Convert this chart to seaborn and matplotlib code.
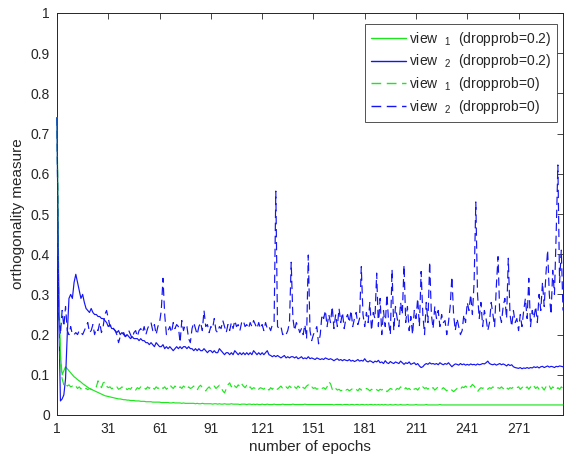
import numpy as np
import pandas as pd
import matplotlib
matplotlib.use("Agg")
import matplotlib.pyplot as plt
import seaborn as sns

# ---------------- data ----------------
green_solid = [
    0.74, 0.35, 0.15, 0.10, 0.11, 0.12, 0.115, 0.11, 0.105, 0.10,
    0.095, 0.092, 0.088, 0.085, 0.082, 0.078, 0.075, 0.072, 0.069, 0.066,
    0.064, 0.062, 0.060, 0.058, 0.056, 0.054, 0.052, 0.050, 0.048, 0.047,
    0.046, 0.045, 0.044, 0.043, 0.042, 0.041, 0.040, 0.040, 0.039, 0.038,
    0.038, 0.037, 0.037, 0.036, 0.036, 0.036, 0.035, 0.035, 0.035, 0.034,
    0.034, 0.034, 0.033, 0.033, 0.033, 0.033, 0.032, 0.032, 0.032, 0.032,
    0.032, 0.031, 0.031, 0.031, 0.031, 0.031, 0.030, 0.030, 0.031, 0.030,
    0.030, 0.030, 0.030, 0.029, 0.030, 0.029, 0.029, 0.029, 0.029, 0.029,
    0.029, 0.028, 0.029, 0.028, 0.028, 0.029, 0.028, 0.028, 0.028, 0.028,
    0.028, 0.027, 0.028, 0.028, 0.027, 0.028, 0.027, 0.027, 0.028, 0.027,
    0.027, 0.027, 0.028, 0.027, 0.027, 0.027, 0.027, 0.026, 0.027, 0.027,
    0.027, 0.026, 0.027, 0.027, 0.026, 0.027, 0.026, 0.027, 0.026, 0.026,
    0.027, 0.026, 0.026, 0.027, 0.026, 0.026, 0.026, 0.027, 0.026, 0.026,
    0.026, 0.026, 0.027, 0.026, 0.026, 0.026, 0.026, 0.026, 0.027, 0.026,
    0.026, 0.026, 0.026, 0.026, 0.026, 0.027, 0.026, 0.026, 0.026, 0.026,
    0.026, 0.026, 0.026, 0.026, 0.026, 0.026, 0.026, 0.026, 0.026, 0.026,
    0.026, 0.026, 0.025, 0.026, 0.026, 0.026, 0.026, 0.025, 0.026, 0.026,
    0.026, 0.025, 0.026, 0.026, 0.025, 0.026, 0.026, 0.025, 0.026, 0.026,
    0.025, 0.026, 0.025, 0.026, 0.026, 0.025, 0.026, 0.025, 0.026, 0.025,
    0.026, 0.025, 0.026, 0.025, 0.025, 0.026, 0.025, 0.025, 0.026, 0.025,
    0.025, 0.026, 0.025, 0.025, 0.025, 0.026, 0.025, 0.025, 0.025, 0.025,
    0.026, 0.025, 0.025, 0.025, 0.025, 0.025, 0.026, 0.025, 0.025, 0.025,
    0.025, 0.025, 0.025, 0.025, 0.026, 0.025, 0.025, 0.025, 0.025, 0.025,
    0.025, 0.025, 0.025, 0.025, 0.025, 0.025, 0.025, 0.025, 0.025, 0.025,
    0.025, 0.025, 0.025, 0.025, 0.025, 0.025, 0.025, 0.025, 0.025, 0.025,
    0.025, 0.025, 0.025, 0.025, 0.025, 0.025, 0.025, 0.025, 0.025, 0.025,
    0.025, 0.025, 0.025, 0.025, 0.025, 0.025, 0.025, 0.025, 0.025, 0.025,
    0.025, 0.025, 0.025, 0.025, 0.025, 0.025, 0.025, 0.025, 0.025, 0.025,
    0.025, 0.025, 0.025, 0.025, 0.025, 0.025, 0.025, 0.025, 0.025, 0.025,
    0.025, 0.025, 0.025, 0.025, 0.025, 0.025, 0.025,
]

blue_solid = [
    0.74, 0.26, 0.035, 0.04, 0.05, 0.09, 0.20, 0.29, 0.30, 0.29,
    0.33, 0.35, 0.33, 0.31, 0.29, 0.30, 0.28, 0.265, 0.26, 0.255,
    0.265, 0.255, 0.25, 0.25, 0.245, 0.245, 0.24, 0.24, 0.235, 0.23,
    0.22, 0.225, 0.215, 0.215, 0.21, 0.205, 0.21, 0.20, 0.205, 0.20,
    0.195, 0.20, 0.195, 0.19, 0.195, 0.19, 0.19, 0.19, 0.185, 0.19,
    0.185, 0.185, 0.18, 0.18, 0.175, 0.18, 0.175, 0.17, 0.18, 0.175,
    0.17, 0.17, 0.175, 0.165, 0.17, 0.165, 0.17, 0.165, 0.16, 0.165,
    0.17, 0.165, 0.17, 0.165, 0.17, 0.17, 0.165, 0.17, 0.165, 0.165,
    0.16, 0.165, 0.16, 0.165, 0.16, 0.16, 0.165, 0.16, 0.155, 0.16,
    0.16, 0.155, 0.16, 0.155, 0.155, 0.165, 0.16, 0.155, 0.15, 0.155,
    0.155, 0.15, 0.155, 0.15, 0.16, 0.155, 0.15, 0.155, 0.15, 0.155,
    0.15, 0.155, 0.15, 0.155, 0.15, 0.16, 0.155, 0.15, 0.155, 0.15,
    0.155, 0.15, 0.155, 0.16, 0.15, 0.148, 0.145, 0.148, 0.145, 0.148,
    0.145, 0.142, 0.145, 0.148, 0.142, 0.145, 0.142, 0.145, 0.145, 0.142,
    0.145, 0.14, 0.142, 0.145, 0.14, 0.142, 0.14, 0.145, 0.14, 0.142,
    0.14, 0.138, 0.142, 0.14, 0.138, 0.14, 0.138, 0.142, 0.14, 0.138,
    0.14, 0.138, 0.135, 0.138, 0.14, 0.136, 0.138, 0.135, 0.138, 0.136,
    0.135, 0.138, 0.134, 0.136, 0.133, 0.135, 0.138, 0.134, 0.136, 0.134,
    0.14, 0.134, 0.132, 0.135, 0.133, 0.13, 0.134, 0.132, 0.136, 0.13,
    0.132, 0.128, 0.135, 0.13, 0.128, 0.133, 0.13, 0.128, 0.132, 0.13,
    0.128, 0.134, 0.13, 0.126, 0.13, 0.128, 0.132, 0.126, 0.128, 0.13,
    0.125, 0.128, 0.122, 0.118, 0.12, 0.125, 0.128, 0.126, 0.13, 0.127,
    0.128, 0.126, 0.128, 0.125, 0.13, 0.127, 0.125, 0.128, 0.126, 0.13,
    0.125, 0.12, 0.124, 0.127, 0.126, 0.124, 0.128, 0.125, 0.127, 0.124,
    0.126, 0.124, 0.127, 0.125, 0.126, 0.124, 0.127, 0.125, 0.126, 0.128,
    0.127, 0.13, 0.134, 0.128, 0.126, 0.125, 0.127, 0.124, 0.126, 0.128,
    0.125, 0.127, 0.125, 0.122, 0.126, 0.123, 0.125, 0.12, 0.118, 0.117,
    0.116, 0.118, 0.115, 0.117, 0.116, 0.118, 0.116, 0.118, 0.117, 0.12,
    0.118, 0.12, 0.117, 0.12, 0.121, 0.118, 0.12, 0.122, 0.119, 0.121,
    0.12, 0.118, 0.121, 0.12, 0.122, 0.121, 0.12,
]

green_dashed = [
    0.74, 0.30, 0.13, 0.09, 0.075, 0.08, 0.072, 0.075, 0.07, 0.072,
    0.068, 0.072, 0.066, 0.07, 0.065, 0.068, 0.064, 0.066, 0.063, 0.066,
    0.064, 0.062, 0.066, 0.07, 0.085, 0.075, 0.068, 0.08, 0.082, 0.072,
    0.068, 0.07, 0.065, 0.068, 0.066, 0.07, 0.064, 0.066, 0.07, 0.065,
    0.068, 0.063, 0.066, 0.064, 0.07, 0.066, 0.062, 0.068, 0.065, 0.07,
    0.066, 0.068, 0.064, 0.07, 0.066, 0.072, 0.068, 0.064, 0.07, 0.066,
    0.068, 0.072, 0.066, 0.07, 0.064, 0.068, 0.075, 0.07, 0.066, 0.072,
    0.068, 0.065, 0.07, 0.066, 0.072, 0.068, 0.064, 0.07, 0.066, 0.068,
    0.072, 0.066, 0.062, 0.07, 0.074, 0.068, 0.064, 0.06, 0.066, 0.07,
    0.064, 0.068, 0.072, 0.066, 0.07, 0.074, 0.068, 0.06, 0.055, 0.065,
    0.075, 0.08, 0.07, 0.078, 0.072, 0.068, 0.075, 0.07, 0.078, 0.072,
    0.068, 0.074, 0.066, 0.07, 0.064, 0.068, 0.066, 0.07, 0.064, 0.068,
    0.066, 0.064, 0.07, 0.066, 0.062, 0.068, 0.064, 0.07, 0.066, 0.064,
    0.068, 0.072, 0.066, 0.064, 0.07, 0.066, 0.072, 0.068, 0.064, 0.07,
    0.066, 0.072, 0.068, 0.074, 0.068, 0.066, 0.072, 0.075, 0.068, 0.07,
    0.066, 0.068, 0.064, 0.066, 0.07, 0.066, 0.068, 0.064, 0.07, 0.082,
    0.078, 0.064, 0.06, 0.066, 0.062, 0.064, 0.06, 0.062, 0.066, 0.062,
    0.064, 0.06, 0.063, 0.066, 0.062, 0.064, 0.06, 0.066, 0.062, 0.064,
    0.062, 0.066, 0.064, 0.06, 0.064, 0.062, 0.066, 0.063, 0.06, 0.064,
    0.062, 0.066, 0.064, 0.058, 0.062, 0.066, 0.064, 0.068, 0.062, 0.066,
    0.064, 0.07, 0.066, 0.062, 0.068, 0.064, 0.066, 0.062, 0.068, 0.064,
    0.066, 0.062, 0.068, 0.064, 0.07, 0.066, 0.068, 0.064, 0.07, 0.066,
    0.068, 0.062, 0.066, 0.07, 0.066, 0.064, 0.068, 0.064, 0.06, 0.066,
    0.064, 0.062, 0.058, 0.062, 0.066, 0.068, 0.064, 0.07, 0.068, 0.072,
    0.068, 0.074, 0.07, 0.076, 0.072, 0.066, 0.058, 0.064, 0.068, 0.066,
    0.07, 0.066, 0.064, 0.068, 0.066, 0.07, 0.066, 0.064, 0.068, 0.066,
    0.07, 0.066, 0.062, 0.068, 0.064, 0.068, 0.066, 0.07, 0.066, 0.068,
    0.07, 0.064, 0.068, 0.072, 0.066, 0.07, 0.064, 0.07, 0.066, 0.072,
    0.066, 0.07, 0.064, 0.072, 0.068, 0.062, 0.07, 0.066, 0.072, 0.064,
    0.07, 0.066, 0.062, 0.068, 0.064, 0.07, 0.066,
]

blue_dashed = [
    0.74, 0.25, 0.2, 0.26, 0.22, 0.27, 0.21, 0.2, 0.22, 0.2,
    0.2, 0.205, 0.2, 0.21, 0.205, 0.2, 0.21, 0.22, 0.23, 0.205,
    0.21, 0.225, 0.2, 0.215, 0.21, 0.23, 0.205, 0.22, 0.25, 0.26,
    0.24, 0.22, 0.225, 0.215, 0.21, 0.2, 0.18, 0.195, 0.2, 0.205,
    0.195, 0.2, 0.21, 0.2, 0.19, 0.205, 0.21, 0.195, 0.21, 0.215,
    0.205, 0.22, 0.2, 0.215, 0.225, 0.23, 0.21, 0.225, 0.2, 0.22,
    0.23, 0.26, 0.34, 0.25, 0.2, 0.21, 0.22, 0.205, 0.23, 0.215,
    0.225, 0.22, 0.18, 0.235, 0.21, 0.225, 0.22, 0.19, 0.18, 0.215,
    0.23, 0.215, 0.2, 0.22, 0.23, 0.21, 0.26, 0.22, 0.225, 0.205,
    0.22, 0.215, 0.24, 0.21, 0.205, 0.22, 0.215, 0.235, 0.22, 0.205,
    0.225, 0.21, 0.23, 0.215, 0.235, 0.22, 0.225, 0.21, 0.23, 0.235,
    0.22, 0.225, 0.215, 0.23, 0.22, 0.235, 0.225, 0.215, 0.23, 0.215,
    0.225, 0.21, 0.23, 0.215, 0.22, 0.21, 0.225, 0.23, 0.557, 0.22,
    0.215, 0.22, 0.2, 0.205, 0.2, 0.21, 0.23, 0.38, 0.24, 0.21,
    0.23, 0.22, 0.205, 0.215, 0.2, 0.225, 0.19, 0.398, 0.21, 0.185,
    0.2, 0.21, 0.22, 0.177, 0.2, 0.25, 0.24, 0.26, 0.22, 0.25,
    0.23, 0.27, 0.215, 0.25, 0.22, 0.265, 0.23, 0.255, 0.215, 0.24,
    0.25, 0.23, 0.26, 0.22, 0.24, 0.255, 0.225, 0.24, 0.369, 0.25,
    0.22, 0.255, 0.23, 0.28, 0.21, 0.255, 0.24, 0.353, 0.22, 0.29,
    0.2, 0.26, 0.22, 0.3, 0.23, 0.2, 0.362, 0.21, 0.27, 0.24,
    0.22, 0.28, 0.25, 0.373, 0.23, 0.27, 0.21, 0.245, 0.2, 0.26,
    0.24, 0.29, 0.22, 0.357, 0.25, 0.2, 0.28, 0.23, 0.381, 0.25,
    0.215, 0.27, 0.24, 0.26, 0.22, 0.25, 0.23, 0.235, 0.2, 0.23,
    0.27, 0.344, 0.25, 0.21, 0.24, 0.22, 0.2, 0.21, 0.25, 0.23,
    0.28, 0.26, 0.3, 0.25, 0.33, 0.53, 0.3, 0.24, 0.28, 0.22,
    0.26, 0.24, 0.21, 0.23, 0.28, 0.25, 0.22, 0.32, 0.394, 0.25,
    0.23, 0.27, 0.29, 0.24, 0.39, 0.25, 0.22, 0.26, 0.23, 0.24,
    0.21, 0.25, 0.22, 0.26, 0.29, 0.24, 0.34, 0.22, 0.26, 0.24,
    0.27, 0.23, 0.3, 0.26, 0.33, 0.27, 0.35, 0.41, 0.3, 0.25,
    0.36, 0.3, 0.45, 0.622, 0.33, 0.41, 0.26,
]

series_labels = [
    r"view  $_{1}$  (dropprob=0.2)",
    r"view  $_{2}$  (dropprob=0.2)",
    r"view  $_{1}$  (dropprob=0)",
    r"view  $_{2}$  (dropprob=0)",
]
x_ticks = [1, 31, 61, 91, 121, 151, 181, 211, 241, 271]
y_ticks = [0, 0.1, 0.2, 0.3, 0.4, 0.5, 0.6, 0.7, 0.8, 0.9, 1]
y_tick_labels = ["0", "0.1", "0.2", "0.3", "0.4", "0.5", "0.6", "0.7", "0.8", "0.9", "1"]

# ---------------- build table ----------------
all_series = [green_solid, blue_solid, green_dashed, blue_dashed]
frames = []
for lab, vals in zip(series_labels, all_series):
    frames.append(pd.DataFrame({
        "epoch": np.arange(1, len(vals) + 1),
        "value": vals,
        "series": lab,
    }))
df = pd.concat(frames, ignore_index=True)

# ---------------- style ----------------
sns.set_theme(style="white")
plt.rcParams["font.family"] = ["Liberation Sans", "DejaVu Sans"]
plt.rcParams["mathtext.fontset"] = "custom"
plt.rcParams["mathtext.rm"] = "Liberation Sans"
plt.rcParams["mathtext.it"] = "Liberation Sans"
plt.rcParams["mathtext.bf"] = "Liberation Sans"

GREEN = "#1ee61e"
BLUE = "#1414f5"
TXT = "#262626"

palette = {series_labels[0]: GREEN, series_labels[1]: BLUE,
           series_labels[2]: GREEN, series_labels[3]: BLUE}
dashes = {series_labels[0]: "", series_labels[1]: "",
          series_labels[2]: (7, 4), series_labels[3]: (7, 4)}

fig = plt.figure(figsize=(5.65, 4.57), dpi=100)
ax = fig.add_axes([57 / 565, 1 - 415 / 457, (563 - 57) / 565, (415 - 13) / 457])

sns.lineplot(data=df, x="epoch", y="value", hue="series", style="series",
             hue_order=series_labels, style_order=series_labels,
             palette=palette, dashes=dashes, linewidth=0.85,
             ax=ax, legend=True, estimator=None, zorder=3)
for ln in ax.get_lines():
    ln.set_clip_on(False)

ax.set_xlim(1, 297)
ax.set_ylim(0, 1)
ax.set_xticks(x_ticks)
ax.set_xticklabels([str(t) for t in x_ticks])
ax.set_yticks(y_ticks)
ax.set_yticklabels(y_tick_labels)
ax.tick_params(direction="in", top=True, right=True, length=4, width=0.6,
               labelsize=10, colors=TXT, pad=5)
for s in ax.spines.values():
    s.set_color("#262626")
    s.set_linewidth(0.7)
    s.set_zorder(2)
ax.set_xlabel("number of epochs", fontsize=11, color=TXT, labelpad=3)
ax.set_ylabel("orthogonality measure", fontsize=11, color=TXT, labelpad=4)

handles, labels = ax.get_legend_handles_labels()
leg = ax.legend(handles, labels, loc="upper right",
                bbox_to_anchor=(557 / 565, 1 - 24 / 457),
                bbox_transform=fig.transFigure,
                fontsize=10, frameon=True, fancybox=False,
                handlelength=2.5, handletextpad=0.25, labelspacing=0.35,
                borderpad=0.4, borderaxespad=0)
leg.get_frame().set_edgecolor("#262626")
leg.get_frame().set_linewidth(0.7)
leg.set_zorder(5)
for lh in leg.get_lines():
    lh.set_linewidth(1.0)
for t in leg.get_texts():
    t.set_color(TXT)

fig.savefig("out.png", dpi=100)
